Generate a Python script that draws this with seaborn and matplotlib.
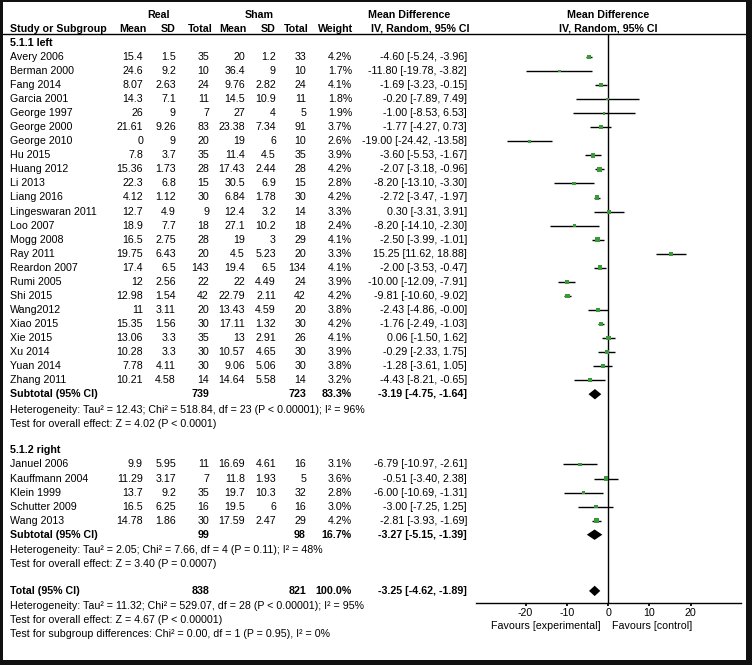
import matplotlib
matplotlib.use("Agg")
import matplotlib.pyplot as plt
import seaborn as sns
import pandas as pd
import numpy as np

# ---------------- data ----------------
studies1 = ["Avery 2006", "Berman 2000", "Fang 2014", "Garcia 2001", "George 1997", "George 2000",
            "George 2010", "Hu 2015", "Huang 2012", "Li 2013", "Liang 2016", "Lingeswaran 2011",
            "Loo 2007", "Mogg 2008", "Ray 2011", "Reardon 2007", "Rumi 2005", "Shi 2015",
            "Wang2012", "Xiao 2015", "Xie 2015", "Xu 2014", "Yuan 2014", "Zhang 2011"]
real_mean1 = ["15.4", "24.6", "8.07", "14.3", "26", "21.61", "0", "7.8", "15.36", "22.3", "4.12", "12.7",
              "18.9", "16.5", "19.75", "17.4", "12", "12.98", "11", "15.35", "13.06", "10.28", "7.78", "10.21"]
real_sd1 = ["1.5", "9.2", "2.63", "7.1", "9", "9.26", "9", "3.7", "1.73", "6.8", "1.12", "4.9",
            "7.7", "2.75", "6.43", "6.5", "2.56", "1.54", "3.11", "1.56", "3.3", "3.3", "4.11", "4.58"]
real_n1 = [35, 10, 24, 11, 7, 83, 20, 35, 28, 15, 30, 9, 18, 28, 20, 143, 22, 42, 20, 30, 35, 30, 30, 14]
sham_mean1 = ["20", "36.4", "9.76", "14.5", "27", "23.38", "19", "11.4", "17.43", "30.5", "6.84", "12.4",
              "27.1", "19", "4.5", "19.4", "22", "22.79", "13.43", "17.11", "13", "10.57", "9.06", "14.64"]
sham_sd1 = ["1.2", "9", "2.82", "10.9", "4", "7.34", "6", "4.5", "2.44", "6.9", "1.78", "3.2",
            "10.2", "3", "5.23", "6.5", "4.49", "2.11", "4.59", "1.32", "2.91", "4.65", "5.06", "5.58"]
sham_n1 = [33, 10, 24, 11, 5, 91, 10, 35, 28, 15, 30, 14, 18, 29, 20, 134, 24, 42, 20, 30, 26, 30, 30, 14]
weight1 = [4.2, 1.7, 4.1, 1.8, 1.9, 3.7, 2.6, 3.9, 4.2, 2.8, 4.2, 3.3, 2.4, 4.1, 3.3, 4.1, 3.9, 4.2,
           3.8, 4.2, 4.1, 3.9, 3.8, 3.2]
md1 = [-4.60, -11.80, -1.69, -0.20, -1.00, -1.77, -19.00, -3.60, -2.07, -8.20, -2.72, 0.30,
       -8.20, -2.50, 15.25, -2.00, -10.00, -9.81, -2.43, -1.76, 0.06, -0.29, -1.28, -4.43]
lo1 = [-5.24, -19.78, -3.23, -7.89, -8.53, -4.27, -24.42, -5.53, -3.18, -13.10, -3.47, -3.31,
       -14.10, -3.99, 11.62, -3.53, -12.09, -10.60, -4.86, -2.49, -1.50, -2.33, -3.61, -8.21]
hi1 = [-3.96, -3.82, -0.15, 7.49, 6.53, 0.73, -13.58, -1.67, -0.96, -3.30, -1.97, 3.91,
       -2.30, -1.01, 18.88, -0.47, -7.91, -9.02, -0.00, -1.03, 1.62, 1.75, 1.05, -0.65]

studies2 = ["Januel 2006", "Kauffmann 2004", "Klein 1999", "Schutter 2009", "Wang 2013"]
real_mean2 = ["9.9", "11.29", "13.7", "16.5", "14.78"]
real_sd2 = ["5.95", "3.17", "9.2", "6.25", "1.86"]
real_n2 = [11, 7, 35, 16, 30]
sham_mean2 = ["16.69", "11.8", "19.7", "19.5", "17.59"]
sham_sd2 = ["4.61", "1.93", "10.3", "6", "2.47"]
sham_n2 = [16, 5, 32, 16, 29]
weight2 = [3.1, 3.6, 2.8, 3.0, 4.2]
md2 = [-6.79, -0.51, -6.00, -3.00, -2.81]
lo2 = [-10.97, -3.40, -10.69, -7.25, -3.93]
hi2 = [-2.61, 2.38, -1.31, 1.25, -1.69]

sub_labels = ["Subtotal (95% CI)", "Subtotal (95% CI)", "Total (95% CI)"]
sub_real_n = [739, 99, 838]
sub_sham_n = [723, 98, 821]
sub_weight = ["83.3%", "16.7%", "100.0%"]
sub_md = [-3.19, -3.27, -3.25]
sub_lo = [-4.75, -5.15, -4.62]
sub_hi = [-1.64, -1.39, -1.89]

het1 = ["Heterogeneity: Tau\u00b2 = 12.43; Chi\u00b2 = 518.84, df = 23 (P < 0.00001); I\u00b2 = 96%",
        "Test for overall effect: Z = 4.02 (P < 0.0001)"]
het2 = ["Heterogeneity: Tau\u00b2 = 2.05; Chi\u00b2 = 7.66, df = 4 (P = 0.11); I\u00b2 = 48%",
        "Test for overall effect: Z = 3.40 (P = 0.0007)"]
het_tot = ["Heterogeneity: Tau\u00b2 = 11.32; Chi\u00b2 = 529.07, df = 28 (P < 0.00001); I\u00b2 = 95%",
           "Test for overall effect: Z = 4.67 (P < 0.00001)",
           "Test for subgroup differences: Chi\u00b2 = 0.00, df = 1 (P = 0.95), I\u00b2 = 0%"]
group_labels = ["5.1.1 left", "5.1.2 right"]
ticks = [-20, -10, 0, 10, 20]

# ---------------- layout ----------------
W, H = 752, 665
FS = 7.7
sns.set_theme(style="white")
plt.rcParams["font.family"] = ["Liberation Sans", "DejaVu Sans"]

fig = plt.figure(figsize=(W / 100, H / 100), dpi=100)
fig.patch.set_facecolor("#111111")

PL, PR, PT, PB = 3, 746, 2, 660
tab = fig.add_axes([PL / W, 1 - PB / H, (PR - PL) / W, (PB - PT) / H])
tab.set_xlim(PL, PR)
tab.set_ylim(PB, PT)
tab.set_facecolor("white")
for s in tab.spines.values():
    s.set_visible(False)
tab.set_xticks([])
tab.set_yticks([])

Y0, DY = 57.0, 14.05


def ypx(r):
    return Y0 + DY * r


def txt(x, r, s, ha="left", bold=False):
    tab.text(x, ypx(r), s, ha=ha, va="center", fontsize=FS,
             fontweight="bold" if bold else "normal", color="black")


COLS = [143, 176, 209, 245, 276, 306, 352]
XCI = 467
XNAME = 10

# headers
txt(159, -3, "Real", ha="center", bold=True)
txt(259, -3, "Sham", ha="center", bold=True)
txt(409, -3, "Mean Difference", ha="center", bold=True)
txt(608, -3, "Mean Difference", ha="center", bold=True)
txt(XNAME, -2, "Study or Subgroup", bold=True)
for x, h in zip([147, 176, 213, 246, 276, 309, 353],
                ["Mean", "SD", "Total", "Mean", "SD", "Total", "Weight"]):
    txt(x, -2, h, ha="right", bold=True)
txt(420, -2, "IV, Random, 95% CI", ha="center", bold=True)
txt(608, -2, "IV, Random, 95% CI", ha="center", bold=True)
tab.plot([PL, PR], [33.5, 33.5], color="black", lw=1.0)


def ci_text(m, l, h):
    return f"{m:.2f} [{l:.2f}, {h:.2f}]"


def study_rows(start, names, rm, rs, rn, sm, ss, sn, w, m, l, h):
    for i in range(len(names)):
        r = start + i
        txt(XNAME, r, names[i])
        vals = [rm[i], rs[i], str(rn[i]), sm[i], ss[i], str(sn[i]), f"{w[i]:.1f}%"]
        for x, v in zip(COLS, vals):
            txt(x, r, v, ha="right")
        txt(XCI, r, ci_text(m[i], l[i], h[i]), ha="right")


txt(XNAME, -1, group_labels[0], bold=True)
study_rows(0, studies1, real_mean1, real_sd1, real_n1, sham_mean1, sham_sd1, sham_n1,
           weight1, md1, lo1, hi1)
txt(XNAME, 28, group_labels[1], bold=True)
study_rows(29, studies2, real_mean2, real_sd2, real_n2, sham_mean2, sham_sd2, sham_n2,
           weight2, md2, lo2, hi2)

sub_rows = [24, 34, 38]
for k, r in enumerate(sub_rows):
    txt(XNAME, r, sub_labels[k], bold=True)
    txt(COLS[2], r, str(sub_real_n[k]), ha="right", bold=True)
    txt(COLS[5], r, str(sub_sham_n[k]), ha="right", bold=True)
    txt(COLS[6], r, sub_weight[k], ha="right", bold=True)
    txt(XCI, r, ci_text(sub_md[k], sub_lo[k], sub_hi[k]), ha="right", bold=True)

for j, s in enumerate(het1):
    txt(XNAME, 25 + j + 0.1, s)
for j, s in enumerate(het2):
    txt(XNAME, 35 + j + 0.1, s)
for j, s in enumerate(het_tot):
    txt(XNAME, 39 + j + 0.1, s)

# ---------------- forest panel ----------------
FX0, FX1 = 476, 741
FY0, FY1 = 34, 603
fax = fig.add_axes([FX0 / W, 1 - FY1 / H, (FX1 - FX0) / W, (FY1 - FY0) / H])
fax.patch.set_alpha(0)
fax.set_xlim(-32, 32.2)
fax.set_ylim((FY1 - Y0) / DY, (FY0 - Y0) / DY)

df = pd.DataFrame({
    "row": list(range(0, 24)) + list(range(29, 34)),
    "md": md1 + md2,
    "lo": lo1 + lo2,
    "hi": hi1 + hi2,
    "weight": weight1 + weight2,
})

fax.hlines(df["row"], df["lo"], df["hi"], color="black", lw=1.0, zorder=2)
sns.scatterplot(data=df, x="md", y="row", size="weight", sizes=(3, 11), size_norm=(1.7, 4.2),
                marker="s", color="#3a9a3a", linewidth=0, legend=False, ax=fax, zorder=3)
fax.axvline(0, color="black", lw=1.0, zorder=1)

hh = 0.37
for k, r in enumerate(sub_rows):
    fax.fill([sub_lo[k], sub_md[k], sub_hi[k], sub_md[k]], [r, r - hh, r, r + hh],
             color="black", lw=0, zorder=4)

for s in ["top", "right", "left"]:
    fax.spines[s].set_visible(False)
fax.spines["bottom"].set_color("black")
fax.spines["bottom"].set_linewidth(1.0)
fax.set_yticks([])
fax.set_xticks(ticks)
fax.set_xticklabels([str(t) for t in ticks], fontsize=FS)
fax.tick_params(axis="x", length=2, pad=1.5, color="black", labelcolor="black", bottom=True)
fax.set_xlabel("")
fax.set_ylabel("")

tab.text(601, 626, "Favours [experimental]", ha="right", va="center", fontsize=FS, color="black")
tab.text(612, 626, "Favours [control]", ha="left", va="center", fontsize=FS, color="black")

fig.savefig("out.png", dpi=100, facecolor=fig.get_facecolor())
